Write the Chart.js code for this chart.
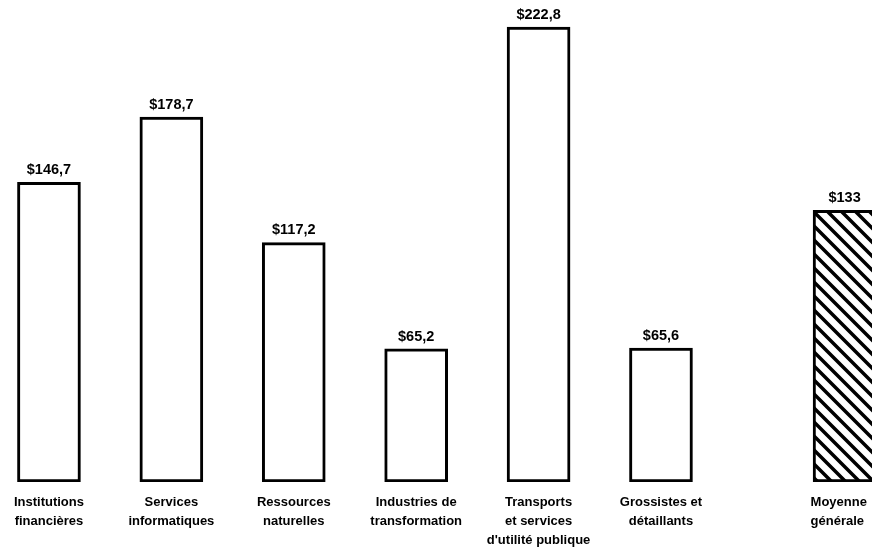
<!DOCTYPE html>
<html>
<head>
<meta charset="utf-8">
<script src="https://cdn.jsdelivr.net/npm/chart.js@4"></script>
<style>
  html, body { margin: 0; padding: 0; background: #fff; }
  #wrap { width: 872px; height: 551px; }
</style>
</head>
<body>
<div id="wrap"><canvas id="chart"></canvas></div>
<script>
// ========== Data ==========
const categories = [
  ['Institutions', 'financières'],
  ['Services', 'informatiques'],
  ['Ressources', 'naturelles'],
  ['Industries de', 'transformation'],
  ['Transports', 'et services', "d'utilité publique"],
  ['Grossistes et', 'détaillants'],
  ['Moyenne', 'générale']
];
const values = [146.7, 178.7, 117.2, 65.2, 222.8, 65.6, 133];
// the average bar sits a little apart from the sectors
const positions = [0, 1, 2, 3, 4, 5, 6.5];

// ========== Hatch for the average bar ==========
function makeHatch() {
  const size = 14;
  const c = document.createElement('canvas');
  c.width = size; c.height = size;
  const g = c.getContext('2d');
  g.fillStyle = '#fff';
  g.fillRect(0, 0, size, size);
  g.strokeStyle = '#000';
  g.lineWidth = 3.5;
  g.beginPath();
  g.moveTo(-2, -2); g.lineTo(size + 2, size + 2);
  g.moveTo(-3, size - 3); g.lineTo(3, size + 3);
  g.moveTo(size - 3, -3); g.lineTo(size + 3, 3);
  g.stroke();
  return document.getElementById('chart').getContext('2d').createPattern(c, 'repeat');
}

function fmt(v) {
  return '$' + (Number.isInteger(v) ? String(v) : v.toFixed(1).replace('.', ','));
}

// ========== Labels plugin ==========
const labelsPlugin = {
  id: 'labels',
  afterDatasetsDraw(chart) {
    const ctx = chart.ctx;
    const x = chart.scales.x;
    const meta = chart.getDatasetMeta(0);
    ctx.save();
    ctx.fillStyle = '#000';

    // values above bars
    ctx.font = 'bold 14.5px "Liberation Sans", Arial, sans-serif';
    ctx.textAlign = 'center';
    ctx.textBaseline = 'bottom';
    meta.data.forEach((bar, i) => {
      ctx.fillText(fmt(values[i]), bar.x, bar.y - 5);
    });

    // category names under the bars
    ctx.font = 'bold 13px "Liberation Sans", Arial, sans-serif';
    ctx.textBaseline = 'alphabetic';
    const base = chart.chartArea.bottom + 24;
    categories.forEach((lines, i) => {
      let cx = x.getPixelForValue(positions[i]);
      const last = i === categories.length - 1;
      ctx.textAlign = last ? 'left' : 'center';
      if (last) cx -= 34;
      lines.forEach((t, j) => ctx.fillText(t, cx, base + j * 19));
    });
    ctx.restore();
  }
};

// ========== Chart ==========
const fills = values.map((v, i) => i === values.length - 1 ? makeHatch() : '#fff');

new Chart(document.getElementById('chart'), {
  type: 'bar',
  data: {
    datasets: [{
      data: positions.map((p, i) => ({ x: p, y: values[i] })),
      backgroundColor: fills,
      borderColor: '#000',
      borderWidth: 3,
      borderSkipped: false,
      barThickness: 63
    }]
  },
  options: {
    responsive: true,
    maintainAspectRatio: false,
    animation: false,
    layout: { padding: { left: 0, right: 0, top: 0, bottom: 69 } },
    plugins: { legend: { display: false }, tooltip: { enabled: false } },
    scales: {
      x: { type: 'linear', offset: false, min: -0.4, max: 6.724, display: false },
      y: { min: 0, max: 236, display: false }
    }
  },
  plugins: [labelsPlugin]
});
</script>
</body>
</html>
